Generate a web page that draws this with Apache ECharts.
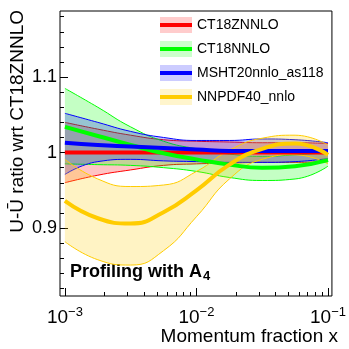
<!DOCTYPE html>
<html>
<head>
    <meta charset="UTF-8">
    <title>U-Ubar ratio</title>
    <script src="https://cdn.jsdelivr.net/npm/echarts@6/dist/echarts.min.js"></script>
    <style>
        html, body { margin: 0; padding: 0; background: #fff; }
    </style>
</head>
<body>
    <div id="chart" style="width:349px; height:349px;"></div>
    <script>
        // x values (momentum fraction), log-spaced
        var xs = [0.001, 0.00178, 0.00316, 0.00562, 0.01, 0.0178, 0.0316, 0.0562, 0.1];

        var ct18zCenter = [1, 1, 1, 1, 1, 1, 1, 1, 1];
        var ct18zUp     = [1.040, 1.031, 1.023, 1.017, 1.015, 1.014, 1.013, 1.013, 1.012];
        var ct18zDown   = [0.960, 0.970, 0.977, 0.983, 0.985, 0.986, 0.987, 0.987, 0.988];

        var ct18Center = [1.034, 1.022, 1.010, 0.999, 0.991, 0.984, 0.980, 0.982, 0.990];
        var ct18Up     = [1.085, 1.060, 1.034, 1.015, 1.005, 0.998, 0.995, 0.997, 1.000];
        var ct18Down   = [0.985, 0.984, 0.983, 0.980, 0.975, 0.967, 0.963, 0.965, 0.982];

        var mshtCenter = [1.013, 1.010, 1.008, 1.006, 1.004, 1.002, 1.002, 1.002, 1.002];
        var mshtUp     = [1.052, 1.040, 1.028, 1.020, 1.016, 1.016, 1.018, 1.017, 1.013];
        var mshtDown   = [0.971, 0.988, 0.991, 0.989, 0.988, 0.987, 0.987, 0.988, 0.992];

        var nnpdfCenter = [0.936, 0.913, 0.906, 0.921, 0.950, 0.984, 1.005, 1.012, 0.997];
        var nnpdfUp     = [0.991, 0.965, 0.955, 0.957, 0.975, 1.003, 1.019, 1.023, 1.010];
        var nnpdfDown   = [0.882, 0.858, 0.851, 0.870, 0.915, 0.965, 0.991, 0.997, 0.985];

        var names  = ['CT18ZNNLO', 'CT18NNLO', 'MSHT20nnlo_as118', 'NNPDF40_nnlo'];
        var lineColors = ['#ff0000', '#00ff00', '#0000ff', '#ffcc00'];
        var bandColors = ['rgba(255,0,0,0.23)', 'rgba(0,255,0,0.23)', 'rgba(0,0,255,0.23)', 'rgba(255,204,0,0.23)'];
        var legendColors = ['#ffcccc', '#ccffcc', '#ccccff', '#fff5cc'];

        var centers = [ct18zCenter, ct18Center, mshtCenter, nnpdfCenter];
        var ups     = [ct18zUp, ct18Up, mshtUp, nnpdfUp];
        var downs   = [ct18zDown, ct18Down, mshtDown, nnpdfDown];

        var yTickLabels = [0.9, 1, 1.1];
        var xTickLabels = [-3, -2, -1];

        var lx = xs.map(function (v) { return Math.log10(v); });

        function pairs(arr) {
            return arr.map(function (v, i) { return [lx[i], v]; });
        }

        function clamp(v, a, b) {
            return Math.max(Math.min(v, Math.max(a, b)), Math.min(a, b));
        }

        // same curve construction as echarts' smooth line (smooth = 0.5)
        function bezierSegs(pts) {
            var s = 0.5, segs = [];
            var c0x = pts[0][0], c0y = pts[0][1];
            for (var i = 1; i < pts.length; i++) {
                var p = pts[i - 1], c = pts[i], n = pts[i + 1];
                var c1x, c1y, nx, ny;
                if (!n) {
                    c1x = c[0]; c1y = c[1];
                } else {
                    var vx = n[0] - p[0], vy = n[1] - p[1];
                    var l0 = Math.hypot(c[0] - p[0], c[1] - p[1]);
                    var l1 = Math.hypot(n[0] - c[0], n[1] - c[1]);
                    var r = l1 / (l0 + l1);
                    nx = clamp(c[0] + vx * s * r, n[0], c[0]);
                    ny = clamp(c[1] + vy * s * r, n[1], c[1]);
                    vx = nx - c[0]; vy = ny - c[1];
                    c1x = clamp(c[0] - vx * l0 / l1, p[0], c[0]);
                    c1y = clamp(c[1] - vy * l0 / l1, p[1], c[1]);
                    vx = c[0] - c1x; vy = c[1] - c1y;
                    nx = c[0] + vx * l1 / l0; ny = c[1] + vy * l1 / l0;
                }
                segs.push([c0x, c0y, c1x, c1y, c[0], c[1]]);
                c0x = nx; c0y = ny;
            }
            return segs;
        }

        function curveCmd(segs) {
            return segs.map(function (g) {
                return 'C' + g.map(function (v) { return v.toFixed(2); }).join(' ');
            }).join(' ');
        }

        function bandSeries(k) {
            return {
                type: 'custom', name: names[k] + '_band', coordinateSystem: 'cartesian2d',
                data: pairs(ups[k]),
                silent: true,
                renderItem: function (params, api) {
                    if (params.dataIndex !== 0) return null;
                    var up = ups[k].map(function (v, i) { return api.coord([lx[i], v]); });
                    var lo = downs[k].map(function (v, i) { return api.coord([lx[i], v]); }).reverse();
                    var upD = 'M' + up[0][0] + ' ' + up[0][1] + ' ' + curveCmd(bezierSegs(up));
                    var loD = 'M' + lo[0][0] + ' ' + lo[0][1] + ' ' + curveCmd(bezierSegs(lo));
                    var fillD = upD + ' L' + lo[0][0] + ' ' + lo[0][1] + ' ' + curveCmd(bezierSegs(lo)) + ' Z';
                    return {
                        type: 'group',
                        children: [{
                            type: 'path', shape: { pathData: fillD },
                            style: { fill: bandColors[k], stroke: null }
                        }, {
                            type: 'path', shape: { pathData: upD },
                            style: { fill: null, stroke: lineColors[k], lineWidth: 1 }
                        }, {
                            type: 'path', shape: { pathData: loD },
                            style: { fill: null, stroke: lineColors[k], lineWidth: 1 }
                        }]
                    };
                }
            };
        }

        var series = [];
        names.forEach(function (n, k) {
            series.push(bandSeries(k));
            series.push({
                name: n, type: 'line', smooth: true, symbol: 'none',
                data: pairs(centers[k]),
                lineStyle: { width: 4, color: lineColors[k] },
                itemStyle: { color: lineColors[k] }
            });
        });

        // minor tick positions
        var xMinor = [];
        for (var d = -3; d < -1; d++) {
            for (var m = 2; m <= 9; m++) xMinor.push(d + Math.log10(m));
        }
        var yMinor = [];
        for (var t = 0.82; t < 1.19; t += 0.02) yMinor.push(+t.toFixed(2));

        var font = 'Liberation Sans, Helvetica, Arial, sans-serif';
        var xMin = -3.0372, xMax = -0.9703;
        var yMin = 0.81, yMax = 1.1875;

        var chart = echarts.init(document.getElementById('chart'), null, {renderer: 'canvas'});
        chart.setOption({
            animation: false,
            grid: {
                left: 60, top: 11, right: 11, bottom: 53,
                show: true, borderColor: '#000', borderWidth: 1, backgroundColor: 'transparent'
            },
            legend: [{
                data: names.map(function (n, k) { return { name: n + '_band', icon: 'rect', itemStyle: { color: legendColors[k] } }; }),
                orient: 'vertical', left: 155, top: 12, itemWidth: 32, itemHeight: 16, itemGap: 8,
                selectedMode: false,
                formatter: function (s) { return s.replace('_band', ''); },
                textStyle: { fontFamily: font, fontSize: 14, color: '#000', lineHeight: 16 }
            }, {
                data: names.map(function (n, k) { return { name: n, icon: 'rect', itemStyle: { color: lineColors[k] } }; }),
                orient: 'vertical', left: 155, top: 12, itemWidth: 32, itemHeight: 4, itemGap: 8,
                selectedMode: false,
                textStyle: { fontFamily: font, fontSize: 14, color: 'rgba(0,0,0,0)', lineHeight: 16 }
            }],
            xAxis: [{
                type: 'value', min: xMin, max: xMax,
                axisLine: { show: false },
                splitLine: { show: false },
                axisTick: { inside: true, length: 8, customValues: xTickLabels, lineStyle: { color: '#000' } },
                axisLabel: {
                    customValues: xTickLabels, margin: 10,
                    fontFamily: font, color: '#000',
                    formatter: function (v) { return '{b|10}{s|\u2212' + Math.abs(Math.round(v)) + '}'; },
                    rich: {
                        b: { fontFamily: font, fontSize: 19, color: '#000' },
                        s: { fontFamily: font, fontSize: 13, color: '#000', padding: [0, 0, 10, 0] }
                    }
                }
            }, {
                type: 'value', min: xMin, max: xMax, position: 'bottom',
                axisLine: { show: false }, splitLine: { show: false },
                axisTick: { inside: true, length: 4, customValues: xMinor, lineStyle: { color: '#000' } },
                axisLabel: { show: false }
            }],
            yAxis: [{
                type: 'value', min: yMin, max: yMax,
                axisLine: { show: false }, splitLine: { show: false },
                axisTick: { inside: true, length: 8, customValues: yTickLabels, lineStyle: { color: '#000' } },
                axisLabel: {
                    customValues: yTickLabels, margin: 3,
                    fontFamily: font, fontSize: 18, color: '#000',
                    formatter: function (v) { return v === 1 ? '1' : v.toFixed(1); }
                }
            }, {
                type: 'value', min: yMin, max: yMax, position: 'left',
                axisLine: { show: false }, splitLine: { show: false },
                axisTick: { inside: true, length: 4, customValues: yMinor, lineStyle: { color: '#000' } },
                axisLabel: { show: false }
            }],
            graphic: [{
                type: 'text', x: 18, y: 10, rotation: Math.PI / 2,
                style: {
                    text: 'U-\u016A ratio wrt CT18ZNNLO', fill: '#000',
                    font: '19px ' + font, align: 'right', verticalAlign: 'middle'
                }
            }, {
                type: 'text', right: 11, top: 327,
                style: { text: 'Momentum fraction x', fill: '#000', font: '19px ' + font }
            }, {
                type: 'text', left: 70, top: 263,
                style: {
                    text: '{t|Profiling with A}{s|4}',
                    rich: {
                        t: { fontFamily: font, fontSize: 18, fontWeight: 'bold', fill: '#000' },
                        s: { fontFamily: font, fontSize: 13, fontWeight: 'bold', fill: '#000', padding: [8, 0, 0, 1] }
                    }
                }
            }],
            series: series
        });
    </script>
</body>
</html>
